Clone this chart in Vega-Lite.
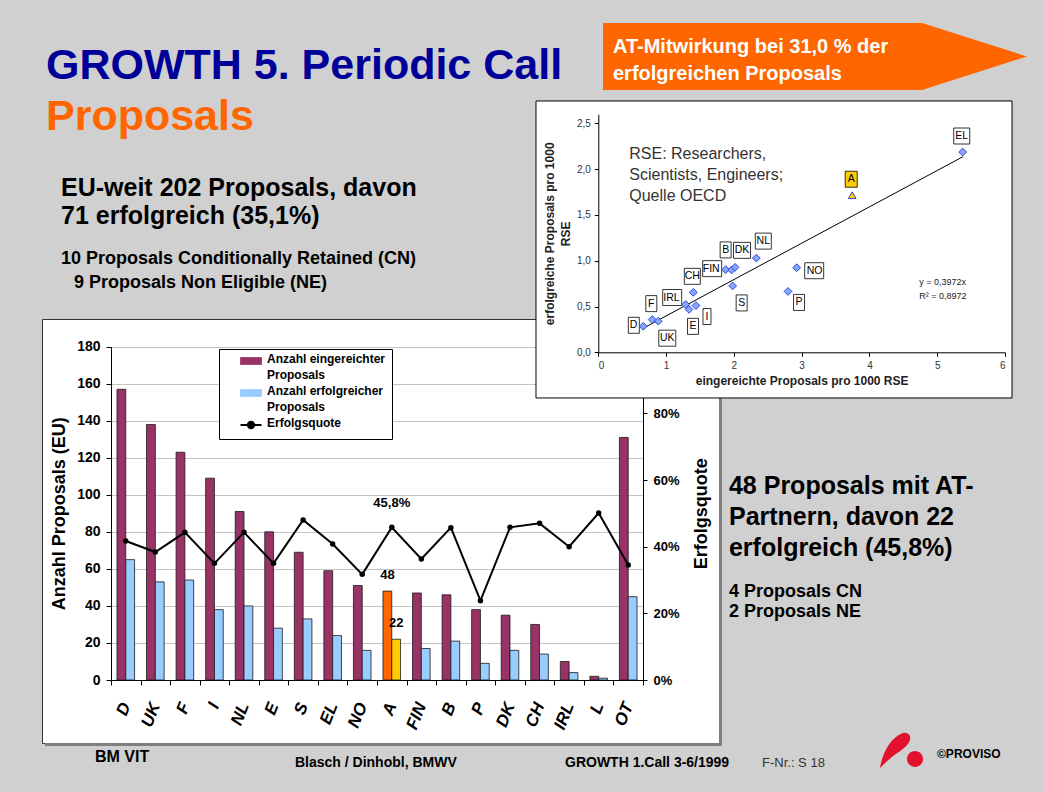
{
"$schema": "https://vega.github.io/schema/vega-lite/v6.json",
"width": 677, "height": 424,
"autosize": "none",
"padding": {"left": 42, "top": 319, "right": 324, "bottom": 49},
"background": "#d0d0d0",
"config": {
  "view": {"fill": "white", "stroke": "#333333", "strokeWidth": 1},
  "font": "Liberation Sans",
  "text": {"font": "Liberation Sans"},
  "axis": {"labelFont": "Liberation Sans", "titleFont": "Liberation Sans"},
  "legend": {"labelFont": "Liberation Sans"},
  "locale": {"number": {"decimal": ",", "thousands": ".", "grouping": [3], "currency": ["", " €"]}}
},
"datasets": {
  "bars": [
    {"country": "D", "series": "Anzahl eingereichter Proposals", "n": 157},
    {"country": "D", "series": "Anzahl erfolgreicher Proposals", "n": 65},
    {"country": "UK", "series": "Anzahl eingereichter Proposals", "n": 138},
    {"country": "UK", "series": "Anzahl erfolgreicher Proposals", "n": 53},
    {"country": "F", "series": "Anzahl eingereichter Proposals", "n": 123},
    {"country": "F", "series": "Anzahl erfolgreicher Proposals", "n": 54},
    {"country": "I", "series": "Anzahl eingereichter Proposals", "n": 109},
    {"country": "I", "series": "Anzahl erfolgreicher Proposals", "n": 38},
    {"country": "NL", "series": "Anzahl eingereichter Proposals", "n": 91},
    {"country": "NL", "series": "Anzahl erfolgreicher Proposals", "n": 40},
    {"country": "E", "series": "Anzahl eingereichter Proposals", "n": 80},
    {"country": "E", "series": "Anzahl erfolgreicher Proposals", "n": 28},
    {"country": "S", "series": "Anzahl eingereichter Proposals", "n": 69},
    {"country": "S", "series": "Anzahl erfolgreicher Proposals", "n": 33},
    {"country": "EL", "series": "Anzahl eingereichter Proposals", "n": 59},
    {"country": "EL", "series": "Anzahl erfolgreicher Proposals", "n": 24},
    {"country": "NO", "series": "Anzahl eingereichter Proposals", "n": 51},
    {"country": "NO", "series": "Anzahl erfolgreicher Proposals", "n": 16},
    {"country": "A", "series": "Anzahl eingereichter Proposals", "n": 48},
    {"country": "A", "series": "Anzahl erfolgreicher Proposals", "n": 22},
    {"country": "FIN", "series": "Anzahl eingereichter Proposals", "n": 47},
    {"country": "FIN", "series": "Anzahl erfolgreicher Proposals", "n": 17},
    {"country": "B", "series": "Anzahl eingereichter Proposals", "n": 46},
    {"country": "B", "series": "Anzahl erfolgreicher Proposals", "n": 21},
    {"country": "P", "series": "Anzahl eingereichter Proposals", "n": 38},
    {"country": "P", "series": "Anzahl erfolgreicher Proposals", "n": 9},
    {"country": "DK", "series": "Anzahl eingereichter Proposals", "n": 35},
    {"country": "DK", "series": "Anzahl erfolgreicher Proposals", "n": 16},
    {"country": "CH", "series": "Anzahl eingereichter Proposals", "n": 30},
    {"country": "CH", "series": "Anzahl erfolgreicher Proposals", "n": 14},
    {"country": "IRL", "series": "Anzahl eingereichter Proposals", "n": 10},
    {"country": "IRL", "series": "Anzahl erfolgreicher Proposals", "n": 4},
    {"country": "L", "series": "Anzahl eingereichter Proposals", "n": 2},
    {"country": "L", "series": "Anzahl erfolgreicher Proposals", "n": 1},
    {"country": "OT", "series": "Anzahl eingereichter Proposals", "n": 131},
    {"country": "OT", "series": "Anzahl erfolgreicher Proposals", "n": 45}
  ],
  "quote": [
    {"country": "D", "rate": 0.417}, {"country": "UK", "rate": 0.384}, {"country": "F", "rate": 0.443},
    {"country": "I", "rate": 0.350}, {"country": "NL", "rate": 0.443}, {"country": "E", "rate": 0.350},
    {"country": "S", "rate": 0.480}, {"country": "EL", "rate": 0.408}, {"country": "NO", "rate": 0.317},
    {"country": "A", "rate": 0.458}, {"country": "FIN", "rate": 0.363}, {"country": "B", "rate": 0.457},
    {"country": "P", "rate": 0.238}, {"country": "DK", "rate": 0.458}, {"country": "CH", "rate": 0.470},
    {"country": "IRL", "rate": 0.400}, {"country": "L", "rate": 0.501}, {"country": "OT", "rate": 0.345}
  ],
  "scatter": [
    {"country": "D", "eingereicht": 0.664, "erfolgreich": 0.284},
    {"country": "F", "eingereicht": 0.797, "erfolgreich": 0.357},
    {"country": "UK", "eingereicht": 0.885, "erfolgreich": 0.340},
    {"country": "IRL", "eingereicht": 1.289, "erfolgreich": 0.522},
    {"country": "E", "eingereicht": 1.338, "erfolgreich": 0.469},
    {"country": "CH", "eingereicht": 1.402, "erfolgreich": 0.655},
    {"country": "I", "eingereicht": 1.441, "erfolgreich": 0.511},
    {"country": "FIN", "eingereicht": 1.879, "erfolgreich": 0.903},
    {"country": "B", "eingereicht": 1.967, "erfolgreich": 0.900},
    {"country": "DK", "eingereicht": 2.017, "erfolgreich": 0.928},
    {"country": "S", "eingereicht": 1.982, "erfolgreich": 0.725},
    {"country": "NL", "eingereicht": 2.331, "erfolgreich": 1.029},
    {"country": "P", "eingereicht": 2.799, "erfolgreich": 0.665},
    {"country": "NO", "eingereicht": 2.927, "erfolgreich": 0.924},
    {"country": "A", "eingereicht": 3.746, "erfolgreich": 1.716},
    {"country": "EL", "eingereicht": 5.376, "erfolgreich": 2.188}
  ],
  "trend": [
    {"eingereicht": 0.66, "erfolgreich": 0.262},
    {"eingereicht": 5.38, "erfolgreich": 2.137}
  ]
},
"layer": [
  {
    "data": {"values": [{}]},
    "layer": [
      {"mark": {"type": "rect", "color": "#7f7f7f"},
       "encoding": {"x": {"datum": 68.94, "type": "quantitative", "scale": {"domain": [0, 100], "range": [-42, 1001]}, "axis": null}, "x2": {"datum": 69.22},
                    "y": {"datum": 40.66, "type": "quantitative", "scale": {"domain": [0, 100], "range": [-319, 473]}, "axis": null}, "y2": {"datum": 94.19}}},
      {"mark": {"type": "rect", "color": "#7f7f7f"},
       "encoding": {"x": {"datum": 4.31, "type": "quantitative", "axis": null}, "x2": {"datum": 69.22},
                    "y": {"datum": 93.81, "type": "quantitative", "axis": null}, "y2": {"datum": 94.19}}},
      {"mark": {"type": "point", "shape": "M-212,-33.5H107L212,0L107,33.5H-212Z", "size": 4, "filled": true, "color": "#FF6600", "opacity": 1},
       "encoding": {"x": {"datum": 78.14, "type": "quantitative", "axis": null}, "y": {"datum": 7.13, "type": "quantitative", "axis": null}}},
      {"mark": {"type": "text", "text": ["AT-Mitwirkung bei 31,0 % der", "erfolgreichen Proposals"], "align": "left", "baseline": "alphabetic", "fontSize": 20, "fontWeight": "bold", "color": "white", "lineHeight": 27},
       "encoding": {"x": {"datum": 58.77, "type": "quantitative", "axis": null}, "y": {"datum": 6.65, "type": "quantitative", "axis": null}}},
      {"mark": {"type": "text", "text": "GROWTH 5. Periodic Call", "align": "left", "baseline": "alphabetic", "fontSize": 43, "fontWeight": "bold", "color": "#000099"},
       "encoding": {"x": {"datum": 4.41, "type": "quantitative", "axis": null}, "y": {"datum": 9.97, "type": "quantitative", "axis": null}}},
      {"mark": {"type": "text", "text": "Proposals", "align": "left", "baseline": "alphabetic", "fontSize": 43, "fontWeight": "bold", "color": "#FF6600"},
       "encoding": {"x": {"datum": 4.41, "type": "quantitative", "axis": null}, "y": {"datum": 16.41, "type": "quantitative", "axis": null}}},
      {"mark": {"type": "text", "text": ["EU-weit 202 Proposals, davon", "71 erfolgreich (35,1%)"], "align": "left", "baseline": "alphabetic", "fontSize": 25, "fontWeight": "bold", "color": "black", "lineHeight": 28},
       "encoding": {"x": {"datum": 5.85, "type": "quantitative", "axis": null}, "y": {"datum": 24.75, "type": "quantitative", "axis": null}}},
      {"mark": {"type": "text", "text": "10 Proposals Conditionally Retained (CN)", "align": "left", "baseline": "alphabetic", "fontSize": 18, "fontWeight": "bold", "color": "black"},
       "encoding": {"x": {"datum": 5.85, "type": "quantitative", "axis": null}, "y": {"datum": 33.33, "type": "quantitative", "axis": null}}},
      {"mark": {"type": "text", "text": "9 Proposals Non Eligible (NE)", "align": "left", "baseline": "alphabetic", "fontSize": 18, "fontWeight": "bold", "color": "black"},
       "encoding": {"x": {"datum": 7.09, "type": "quantitative", "axis": null}, "y": {"datum": 36.36, "type": "quantitative", "axis": null}}},
      {"mark": {"type": "text", "text": ["48 Proposals mit AT-", "Partnern, davon 22", "erfolgreich (45,8%)"], "align": "left", "baseline": "alphabetic", "fontSize": 25, "fontWeight": "bold", "color": "black", "lineHeight": 31},
       "encoding": {"x": {"datum": 69.89, "type": "quantitative", "axis": null}, "y": {"datum": 62.37, "type": "quantitative", "axis": null}}},
      {"mark": {"type": "text", "text": ["4 Proposals CN", "2 Proposals NE"], "align": "left", "baseline": "alphabetic", "fontSize": 18, "fontWeight": "bold", "color": "black", "lineHeight": 20},
       "encoding": {"x": {"datum": 69.89, "type": "quantitative", "axis": null}, "y": {"datum": 75.38, "type": "quantitative", "axis": null}}},
      {"mark": {"type": "text", "text": "BM VIT", "align": "left", "baseline": "alphabetic", "fontSize": 16, "fontWeight": "bold", "color": "black"},
       "encoding": {"x": {"datum": 9.11, "type": "quantitative", "axis": null}, "y": {"datum": 96.21, "type": "quantitative", "axis": null}}},
      {"mark": {"type": "text", "text": "Blasch / Dinhobl, BMWV", "align": "left", "baseline": "alphabetic", "fontSize": 14, "fontWeight": "bold", "color": "black"},
       "encoding": {"x": {"datum": 28.28, "type": "quantitative", "axis": null}, "y": {"datum": 96.84, "type": "quantitative", "axis": null}}},
      {"mark": {"type": "text", "text": "GROWTH 1.Call 3-6/1999", "align": "left", "baseline": "alphabetic", "fontSize": 14, "fontWeight": "bold", "color": "black"},
       "encoding": {"x": {"datum": 54.17, "type": "quantitative", "axis": null}, "y": {"datum": 96.84, "type": "quantitative", "axis": null}}},
      {"mark": {"type": "text", "text": "F-Nr.: S 18", "align": "left", "baseline": "alphabetic", "fontSize": 13, "color": "#333333"},
       "encoding": {"x": {"datum": 73.06, "type": "quantitative", "axis": null}, "y": {"datum": 96.84, "type": "quantitative", "axis": null}}},
      {"mark": {"type": "text", "text": "©PROVISO", "align": "left", "baseline": "alphabetic", "fontSize": 12, "fontWeight": "bold", "color": "black"},
       "encoding": {"x": {"datum": 89.84, "type": "quantitative", "axis": null}, "y": {"datum": 95.71, "type": "quantitative", "axis": null}}},
      {"mark": {"type": "point", "shape": "M-21,17C-19,2,-10,-14,2,-18C8,-19,11,-14,8,-9C5,-3,-3,1,-8,5C-13,9,-17,13,-21,17ZM6,8A8,8,0,1,0,22,8A8,8,0,1,0,6,8Z", "size": 4, "filled": true, "color": "#E3102E", "opacity": 1},
       "encoding": {"x": {"datum": 86.39, "type": "quantitative", "axis": null}, "y": {"datum": 94.82, "type": "quantitative", "axis": null}}}
    ]
  },
  {
    "layer": [
      {
        "data": {"name": "bars"},
        "layer": [
          {
            "mark": {"type": "bar", "stroke": "#1a1a1a", "strokeWidth": 0.8},
            "encoding": {
              "x": {"field": "country", "type": "nominal",
                    "scale": {"domain": ["D","UK","F","I","NL","E","S","EL","NO","A","FIN","B","P","DK","CH","IRL","L","OT"], "range": [69, 601], "paddingInner": 0, "paddingOuter": 0},
                    "axis": {"orient": "bottom", "offset": -63, "title": null, "labelAngle": -68, "labelFontSize": 17, "labelFontWeight": "bold", "labelFontStyle": "italic", "labelColor": "black",
                             "labelPadding": 18, "labelOverlap": false, "tickSize": 5, "tickBand": "extent", "tickColor": "black", "domainColor": "black", "grid": false, "zindex": 0}},
              "xOffset": {"field": "series", "type": "nominal", "scale": {"domain": ["Anzahl eingereichter Proposals", "Anzahl erfolgreicher Proposals"], "paddingInner": 0, "paddingOuter": 0.68}},
              "y": {"field": "n", "type": "quantitative",
                    "scale": {"domain": [0, 180], "range": [361, 27.7]},
                    "axis": {"orient": "left", "offset": -69, "values": [0,20,40,60,80,100,120,140,160,180], "labelFontSize": 14, "labelFontWeight": "bold", "labelColor": "black",
                             "labelPadding": 6, "tickSize": 5, "tickColor": "black", "domainColor": "black", "grid": true, "gridColor": "#c4c4c4",
                             "title": "Anzahl Proposals (EU)", "titleFontSize": 18, "titleFontWeight": "bold", "titleColor": "black", "titlePadding": 8, "zindex": 0}},
              "color": {"field": "series", "type": "nominal",
                        "condition": [{"test": "datum.country === 'A' && datum.series === 'Anzahl eingereichter Proposals'", "value": "#FF6600"}, {"test": "datum.country === 'A'", "value": "#FFCC00"}],
                        "scale": {"domain": ["Anzahl eingereichter Proposals", "Anzahl erfolgreicher Proposals", "Erfolgsquote"], "range": ["#993366", "#99CCFF", "#000000"]},
                        "legend": {"title": null, "orient": "none", "legendX": 177, "legendY": 30, "fillColor": "white", "strokeColor": "black", "padding": 6, "symbolOffset": 20,
                                   "labelFontSize": 12, "labelFontWeight": "bold", "labelColor": "black", "labelLimit": 0, "labelOffset": 10, "rowPadding": 4, "symbolSize": 441, "zindex": 1,
                                   "symbolType": "M-1,-0.33H1V0.33H-1Z", "symbolStrokeColor": "black", "symbolStrokeWidth": 0.8, "symbolOpacity": 1,
                                   "labelBaseline": "top",
                                   "labelExpr": "datum.label == 'Erfolgsquote' ? datum.label : [replace(datum.label, ' Proposals', ''), 'Proposals']",
                                   "encode": {
                                     "symbols": {"update": {
                                       "shape": {"signal": "datum.value === 'Erfolgsquote' ? 'M-1,0H1M-0.3,0A0.3,0.3,0,1,1,0.3,0A0.3,0.3,0,1,1,-0.3,0' : 'M-1,-0.33H1V0.33H-1Z'"},
                                       "fill": {"signal": "datum.value === 'Anzahl eingereichter Proposals' ? '#993366' : datum.value === 'Anzahl erfolgreicher Proposals' ? '#99CCFF' : '#000000'"},
                                       "stroke": {"value": "#000000"},
                                       "strokeWidth": {"signal": "datum.value === 'Erfolgsquote' ? 2 : 0.8"},
                                       "opacity": {"value": 1}
                                     }},
                                     "labels": {"update": {"lineHeight": {"value": 16}, "dy": {"value": -7}}}
                                   }}}
            }
          },
          {
            "transform": [{"filter": "datum.country === 'A'"}],
            "mark": {"type": "text", "baseline": "bottom", "dy": -9, "fontSize": 13, "fontWeight": "bold", "color": "black"},
            "encoding": {
              "x": {"field": "country", "type": "nominal", "axis": null},
              "xOffset": {"field": "series", "type": "nominal"},
              "y": {"field": "n", "type": "quantitative", "axis": null},
              "text": {"field": "n", "type": "quantitative"}
            }
          }
        ],
        "resolve": {"axis": {"x": "independent", "y": "independent"}}
      },
      {
        "data": {"name": "quote"},
        "layer": [
          {
            "mark": {"type": "line", "strokeWidth": 2, "point": {"filled": true, "size": 30}},
            "encoding": {
              "x": {"field": "country", "type": "nominal", "axis": null},
              "y": {"field": "rate", "type": "quantitative",
                    "scale": {"domain": [0, 1], "range": [361, 27.7]},
                    "axis": {"orient": "right", "offset": -76, "values": [0, 0.2, 0.4, 0.6, 0.8], "format": ".0%", "labelFontSize": 13, "labelFontWeight": "bold", "labelColor": "black",
                             "labelPadding": 6, "tickSize": 4, "tickColor": "black", "domainColor": "black", "grid": false,
                             "title": "Erfolgsquote", "titleAngle": 270, "titleBaseline": "top", "titleFontSize": 18, "titleFontWeight": "bold", "titleColor": "black", "titlePadding": 13, "zindex": 0}},
              "color": {"datum": "Erfolgsquote", "type": "nominal",
                        "legend": {"title": null, "orient": "none", "legendX": 177, "legendY": 30, "fillColor": "white", "strokeColor": "black", "padding": 6, "symbolOffset": 20,
                                   "labelFontSize": 12, "labelFontWeight": "bold", "labelColor": "black", "labelLimit": 0, "labelOffset": 10, "rowPadding": 4, "symbolSize": 441, "zindex": 1,
                                   "symbolType": "M-1,-0.33H1V0.33H-1Z", "symbolStrokeColor": "black", "symbolStrokeWidth": 0.8, "symbolOpacity": 1,
                                   "labelBaseline": "top",
                                   "labelExpr": "datum.label == 'Erfolgsquote' ? datum.label : [replace(datum.label, ' Proposals', ''), 'Proposals']",
                                   "encode": {
                                     "symbols": {"update": {
                                       "shape": {"signal": "datum.value === 'Erfolgsquote' ? 'M-1,0H1M-0.3,0A0.3,0.3,0,1,1,0.3,0A0.3,0.3,0,1,1,-0.3,0' : 'M-1,-0.33H1V0.33H-1Z'"},
                                       "fill": {"signal": "datum.value === 'Anzahl eingereichter Proposals' ? '#993366' : datum.value === 'Anzahl erfolgreicher Proposals' ? '#99CCFF' : '#000000'"},
                                       "stroke": {"value": "#000000"},
                                       "strokeWidth": {"signal": "datum.value === 'Erfolgsquote' ? 2 : 0.8"},
                                       "opacity": {"value": 1}
                                     }},
                                     "labels": {"update": {"lineHeight": {"value": 16}, "dy": {"value": -7}}}
                                   }}}
            }
          },
          {
            "transform": [{"filter": "datum.country === 'A'"}],
            "mark": {"type": "text", "baseline": "bottom", "dy": -17, "fontSize": 13, "fontWeight": "bold", "color": "black"},
            "encoding": {
              "x": {"field": "country", "type": "nominal", "axis": null},
              "y": {"field": "rate", "type": "quantitative", "axis": null},
              "text": {"field": "rate", "type": "quantitative", "format": ".1%"}
            }
          }
        ],
        "resolve": {"axis": {"x": "independent", "y": "independent"}}
      }
    ],
    "resolve": {"scale": {"y": "independent"}, "axis": {"x": "independent", "y": "independent"}}
  },
  {
    "data": {"values": [{}]},
    "mark": {"type": "rect", "fill": "white", "stroke": "black", "strokeWidth": 1},
    "encoding": {"x": {"datum": 51.39, "type": "quantitative", "scale": {"domain": [0, 100], "range": [-42, 1001]}, "axis": null}, "x2": {"datum": 97.03},
                 "y": {"datum": 12.75, "type": "quantitative", "scale": {"domain": [0, 100], "range": [-319, 473]}, "axis": null}, "y2": {"datum": 50.25}}
  },
  {
    "layer": [
      {
        "data": {"name": "trend"},
        "mark": {"type": "line", "color": "black", "strokeWidth": 1},
        "encoding": {
          "x": {"field": "eingereicht", "type": "quantitative", "scale": {"domain": [0, 6], "range": [556.3, 963]},
                "axis": {"orient": "bottom", "offset": -390.7, "values": [0,1,2,3,4,5,6], "labelFontSize": 10, "labelColor": "#333333", "labelPadding": 4, "tickSize": 4, "tickColor": "black", "domainColor": "black", "grid": false,
                         "title": "eingereichte Proposals pro 1000 RSE", "titleFontSize": 12, "titleFontWeight": "bold", "titleColor": "#222222", "titlePadding": 5, "zindex": 1}},
          "y": {"field": "erfolgreich", "type": "quantitative", "scale": {"domain": [0, 2.5], "range": [33.3, -204.7]},
                "axis": {"orient": "left", "offset": -556.3, "values": [0, 0.5, 1, 1.5, 2, 2.5], "format": ".1f", "labelFontSize": 10, "labelColor": "#333333", "labelPadding": 4, "tickSize": 4, "tickColor": "black", "domainColor": "black", "grid": false,
                         "title": ["erfolgreiche Proposals pro 1000", "RSE"], "titleFontSize": 12, "titleFontWeight": "bold", "titleColor": "#222222", "titlePadding": 4, "titleLineHeight": 16, "zindex": 1}}
        }
      },
      {
        "data": {"name": "scatter"},
        "mark": {"type": "point", "filled": true, "size": 4, "stroke": "black", "strokeWidth": 0.8, "opacity": 1},
        "encoding": {
          "x": {"field": "eingereicht", "type": "quantitative", "axis": null},
          "y": {"field": "erfolgreich", "type": "quantitative", "axis": null},
          "shape": {"field": "country", "type": "nominal", "legend": null,
                    "scale": {"domain": ["EL","A","F","CH","B","NL","DK","D","FIN","IRL","NO","E","UK","S","P","I"],
                              "range": ["M-9,-24H7V-8H-9Z","M-7,-24H5V-8H-7Z","M-6.5,-24H4.5V-8H-6.5Z","M-9,-24H7V-8H-9Z","M-11.5,-28H-0.5V-12H-11.5Z","M-1,-25H15V-9H-1Z","M-1.5,-25H15.5V-9H-1.5Z","M-15,-9H-4V7H-15Z","M-23,-9H-4V7H-23Z","M-23,-15H-4V1H-23Z","M8,-5H27V11H8Z","M-1.5,9H9.5V25H-1.5Z","M0.5,9H17.5V25H0.5Z","M3.5,9H14.5V25H3.5Z","M5.5,3H16.5V19H5.5Z","M7,3H15V19H7Z"]}},
          "fill": {"condition": {"test": "datum.country === 'A'", "value": "#FFCC00"}, "value": "white"}
        }
      },
      {
        "data": {"name": "scatter"},
        "mark": {"type": "point", "filled": true, "size": 60, "stroke": "#2a4ad8", "strokeWidth": 1, "opacity": 1},
        "encoding": {
          "x": {"field": "eingereicht", "type": "quantitative", "axis": null},
          "y": {"field": "erfolgreich", "type": "quantitative", "axis": null},
          "shape": {"condition": {"test": "datum.country === 'A'", "value": "triangle-up"}, "value": "diamond"},
          "fill": {"condition": {"test": "datum.country === 'A'", "value": "#FFCC00"}, "value": "#88a6ff"}
        }
      },
      {"data": {"name": "scatter"}, "transform": [{"filter": "indexof(['EL','A','F','CH'], datum.country) >= 0"}],
       "mark": {"type": "text", "dx": -1, "dy": -16, "fontSize": 10.5, "align": "center", "baseline": "middle", "color": "black"},
       "encoding": {"x": {"field": "eingereicht", "type": "quantitative", "axis": null}, "y": {"field": "erfolgreich", "type": "quantitative", "axis": null}, "text": {"field": "country", "type": "nominal"}}},
      {"data": {"name": "scatter"}, "transform": [{"filter": "datum.country === 'B'"}],
       "mark": {"type": "text", "dx": -6, "dy": -20, "fontSize": 10.5, "align": "center", "baseline": "middle", "color": "black"},
       "encoding": {"x": {"field": "eingereicht", "type": "quantitative", "axis": null}, "y": {"field": "erfolgreich", "type": "quantitative", "axis": null}, "text": {"field": "country", "type": "nominal"}}},
      {"data": {"name": "scatter"}, "transform": [{"filter": "indexof(['NL','DK'], datum.country) >= 0"}],
       "mark": {"type": "text", "dx": 7, "dy": -17, "fontSize": 10.5, "align": "center", "baseline": "middle", "color": "black"},
       "encoding": {"x": {"field": "eingereicht", "type": "quantitative", "axis": null}, "y": {"field": "erfolgreich", "type": "quantitative", "axis": null}, "text": {"field": "country", "type": "nominal"}}},
      {"data": {"name": "scatter"}, "transform": [{"filter": "indexof(['D','FIN'], datum.country) >= 0"}],
       "mark": {"type": "text", "dx": -6, "dy": -1, "fontSize": 10.5, "align": "right", "baseline": "middle", "color": "black"},
       "encoding": {"x": {"field": "eingereicht", "type": "quantitative", "axis": null}, "y": {"field": "erfolgreich", "type": "quantitative", "axis": null}, "text": {"field": "country", "type": "nominal"}}},
      {"data": {"name": "scatter"}, "transform": [{"filter": "datum.country === 'IRL'"}],
       "mark": {"type": "text", "dx": -6, "dy": -7, "fontSize": 10.5, "align": "right", "baseline": "middle", "color": "black"},
       "encoding": {"x": {"field": "eingereicht", "type": "quantitative", "axis": null}, "y": {"field": "erfolgreich", "type": "quantitative", "axis": null}, "text": {"field": "country", "type": "nominal"}}},
      {"data": {"name": "scatter"}, "transform": [{"filter": "datum.country === 'NO'"}],
       "mark": {"type": "text", "dx": 10, "dy": 3, "fontSize": 10.5, "align": "left", "baseline": "middle", "color": "black"},
       "encoding": {"x": {"field": "eingereicht", "type": "quantitative", "axis": null}, "y": {"field": "erfolgreich", "type": "quantitative", "axis": null}, "text": {"field": "country", "type": "nominal"}}},
      {"data": {"name": "scatter"}, "transform": [{"filter": "datum.country === 'E'"}],
       "mark": {"type": "text", "dx": 4, "dy": 17, "fontSize": 10.5, "align": "center", "baseline": "middle", "color": "black"},
       "encoding": {"x": {"field": "eingereicht", "type": "quantitative", "axis": null}, "y": {"field": "erfolgreich", "type": "quantitative", "axis": null}, "text": {"field": "country", "type": "nominal"}}},
      {"data": {"name": "scatter"}, "transform": [{"filter": "indexof(['UK','S'], datum.country) >= 0"}],
       "mark": {"type": "text", "dx": 9, "dy": 17, "fontSize": 10.5, "align": "center", "baseline": "middle", "color": "black"},
       "encoding": {"x": {"field": "eingereicht", "type": "quantitative", "axis": null}, "y": {"field": "erfolgreich", "type": "quantitative", "axis": null}, "text": {"field": "country", "type": "nominal"}}},
      {"data": {"name": "scatter"}, "transform": [{"filter": "indexof(['P','I'], datum.country) >= 0"}],
       "mark": {"type": "text", "dx": 11, "dy": 11, "fontSize": 10.5, "align": "center", "baseline": "middle", "color": "black"},
       "encoding": {"x": {"field": "eingereicht", "type": "quantitative", "axis": null}, "y": {"field": "erfolgreich", "type": "quantitative", "axis": null}, "text": {"field": "country", "type": "nominal"}}},
      {"data": {"values": [{}]},
       "mark": {"type": "text", "text": ["RSE: Researchers,", "Scientists, Engineers;", "Quelle OECD"], "align": "left", "baseline": "alphabetic", "fontSize": 16, "lineHeight": 21, "color": "#333333"},
       "encoding": {"x": {"datum": 0.457, "type": "quantitative", "axis": null}, "y": {"datum": 2.107, "type": "quantitative", "axis": null}}},
      {"data": {"values": [{}]},
       "mark": {"type": "text", "text": ["y = 0,3972x", "R² = 0,8972"], "align": "left", "baseline": "alphabetic", "fontSize": 9, "lineHeight": 14, "color": "#222222"},
       "encoding": {"x": {"datum": 4.735, "type": "quantitative", "axis": null}, "y": {"datum": 0.731, "type": "quantitative", "axis": null}}}
    ],
    "resolve": {"axis": {"x": "independent", "y": "independent"}}
  }
],
"resolve": {
  "scale": {"x": "independent", "y": "independent", "color": "independent", "shape": "independent", "fill": "independent"},
  "axis": {"x": "independent", "y": "independent"},
  "legend": {"color": "independent", "shape": "independent", "fill": "independent"}
}
}
